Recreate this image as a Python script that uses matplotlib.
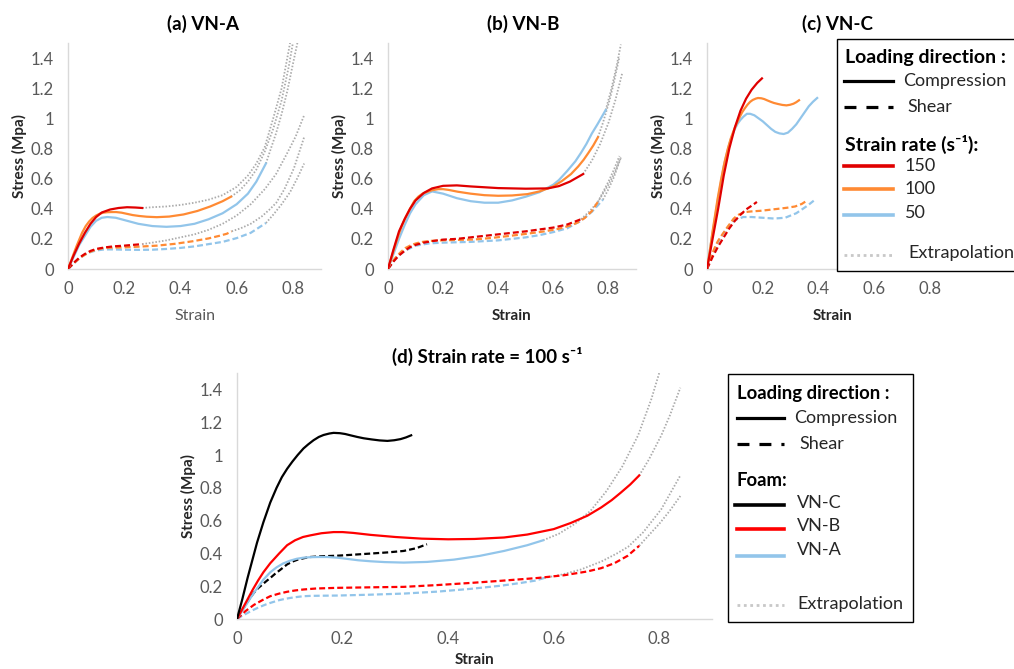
import matplotlib
matplotlib.use("Agg")
import matplotlib.pyplot as plt
from matplotlib.patches import Rectangle

plt.rcParams['font.family'] = ['Lato', 'DejaVu Sans']
plt.rcParams['lines.scale_dashes'] = False

# ---------------- data (strain, stress in MPa) ----------------
# VN-A
a_c150_x = [0, 0.02, 0.04, 0.06, 0.08, 0.10, 0.12, 0.15, 0.18, 0.21, 0.24, 0.264]
a_c150_y = [0, 0.09, 0.17, 0.24, 0.30, 0.345, 0.375, 0.395, 0.405, 0.41, 0.408, 0.405]
vna100_c_x = [0, 0.01, 0.02, 0.03, 0.04, 0.05, 0.063, 0.075, 0.087, 0.1, 0.113, 0.126, 0.14, 0.155, 0.171,
              0.19, 0.21, 0.23, 0.253, 0.28, 0.316, 0.36, 0.411, 0.46, 0.506, 0.55, 0.58]
vna100_c_y = [0, 0.05, 0.1, 0.15, 0.195, 0.24, 0.285, 0.315, 0.338, 0.355, 0.367, 0.374, 0.377, 0.378, 0.378,
              0.374, 0.366, 0.358, 0.352, 0.347, 0.344, 0.348, 0.362, 0.385, 0.415, 0.45, 0.48]
a_c50_x = [0, 0.02, 0.04, 0.06, 0.08, 0.10, 0.12, 0.14, 0.17, 0.20, 0.25, 0.30, 0.35, 0.40, 0.45, 0.50, 0.55, 0.60, 0.64, 0.67, 0.704]
a_c50_y = [0, 0.08, 0.16, 0.22, 0.28, 0.32, 0.34, 0.345, 0.34, 0.325, 0.30, 0.285, 0.28, 0.285, 0.30, 0.33, 0.37, 0.43, 0.50, 0.58, 0.70]
a_s150_x = [0, 0.02, 0.04, 0.06, 0.08, 0.10, 0.13, 0.16, 0.20, 0.23, 0.264]
a_s150_y = [0, 0.04, 0.075, 0.10, 0.12, 0.133, 0.143, 0.15, 0.155, 0.16, 0.165]
vna100_s_x = [0, 0.008, 0.016, 0.024, 0.032, 0.04, 0.048, 0.055, 0.063, 0.072, 0.08, 0.09, 0.1, 0.113, 0.126,
              0.14, 0.16, 0.19, 0.25, 0.316, 0.38, 0.443, 0.5, 0.538, 0.565, 0.582]
vna100_s_y = [0, 0.016, 0.03, 0.044, 0.057, 0.069, 0.08, 0.089, 0.098, 0.107, 0.115, 0.122, 0.128, 0.134, 0.139,
              0.141, 0.142, 0.143, 0.148, 0.155, 0.167, 0.184, 0.203, 0.22, 0.234, 0.25]
a_s50_x = [0, 0.02, 0.04, 0.06, 0.08, 0.10, 0.13, 0.16, 0.20, 0.25, 0.30, 0.35, 0.40, 0.45, 0.50, 0.55, 0.60, 0.65, 0.704]
a_s50_y = [0, 0.035, 0.07, 0.095, 0.112, 0.123, 0.13, 0.13, 0.128, 0.127, 0.128, 0.133, 0.14, 0.15, 0.165, 0.18, 0.205, 0.24, 0.305]
# VN-A extrapolations
a_ec150_x = [0.264, 0.30, 0.35, 0.40, 0.45, 0.50, 0.55, 0.60, 0.64, 0.67, 0.70, 0.73, 0.76, 0.79]
a_ec150_y = [0.405, 0.41, 0.415, 0.425, 0.44, 0.46, 0.49, 0.545, 0.62, 0.70, 0.81, 1.0, 1.2, 1.5]
vna100_ec_x = [0.58, 0.61, 0.64, 0.67, 0.70, 0.73, 0.76, 0.785, 0.80]
vna100_ec_y = [0.48, 0.52, 0.58, 0.66, 0.78, 0.93, 1.12, 1.34, 1.5]
a_ec50_x = [0.704, 0.72, 0.74, 0.76, 0.78, 0.80, 0.816]
a_ec50_y = [0.70, 0.79, 0.90, 1.03, 1.18, 1.36, 1.5]
a_es150_x = [0.264, 0.30, 0.35, 0.40, 0.45, 0.50, 0.55, 0.60, 0.65, 0.70, 0.74, 0.78, 0.81, 0.84]
a_es150_y = [0.165, 0.175, 0.19, 0.21, 0.23, 0.26, 0.30, 0.355, 0.43, 0.53, 0.63, 0.77, 0.88, 1.02]
vna100_es_x = [0.582, 0.614, 0.65, 0.69, 0.72, 0.741, 0.77, 0.804, 0.84]
vna100_es_y = [0.25, 0.27, 0.30, 0.35, 0.40, 0.44, 0.53, 0.67, 0.875]
a_es50_x = [0.704, 0.73, 0.76, 0.79, 0.815, 0.84]
a_es50_y = [0.305, 0.36, 0.43, 0.51, 0.60, 0.70]

# VN-B
b_c150_x = [0, 0.02, 0.04, 0.06, 0.08, 0.10, 0.13, 0.16, 0.20, 0.25, 0.30, 0.40, 0.50, 0.58, 0.62, 0.66, 0.708]
b_c150_y = [0, 0.13, 0.25, 0.33, 0.40, 0.455, 0.505, 0.535, 0.552, 0.555, 0.548, 0.537, 0.533, 0.535, 0.55, 0.58, 0.63]
vnb100_c_x = [0, 0.01, 0.02, 0.03, 0.04, 0.05, 0.063, 0.08, 0.095, 0.11, 0.125, 0.139, 0.16, 0.183, 0.2, 0.22,
              0.253, 0.3, 0.35, 0.4, 0.45, 0.506, 0.55, 0.6, 0.632, 0.664, 0.69, 0.71, 0.727, 0.745, 0.762]
vnb100_c_y = [0, 0.06, 0.12, 0.18, 0.235, 0.285, 0.34, 0.40, 0.45, 0.48, 0.50, 0.51, 0.523, 0.53, 0.53, 0.525,
              0.513, 0.50, 0.49, 0.486, 0.488, 0.497, 0.515, 0.548, 0.585, 0.63, 0.68, 0.725, 0.77, 0.82, 0.875]
b_c50_x = [0, 0.02, 0.04, 0.06, 0.08, 0.10, 0.13, 0.16, 0.20, 0.25, 0.30, 0.35, 0.40, 0.45, 0.50, 0.55, 0.60,
           0.62, 0.65, 0.68, 0.70, 0.72, 0.74, 0.76, 0.79]
b_c50_y = [0, 0.1, 0.2, 0.29, 0.37, 0.43, 0.49, 0.515, 0.50, 0.47, 0.45, 0.44, 0.44, 0.455, 0.48, 0.51, 0.56,
           0.59, 0.65, 0.715, 0.77, 0.83, 0.9, 0.96, 1.055]
b_s150_x = [0, 0.02, 0.04, 0.06, 0.08, 0.10, 0.13, 0.16, 0.20, 0.25, 0.30, 0.40, 0.50, 0.60, 0.65, 0.70]
b_s150_y = [0, 0.05, 0.09, 0.12, 0.145, 0.16, 0.175, 0.185, 0.195, 0.20, 0.21, 0.23, 0.25, 0.275, 0.295, 0.33]
vnb100_s_x = [0, 0.016, 0.032, 0.048, 0.063, 0.08, 0.095, 0.11, 0.126, 0.15, 0.19, 0.25, 0.316, 0.38, 0.443,
              0.5, 0.569, 0.62, 0.664, 0.69, 0.715, 0.74, 0.762]
vnb100_s_y = [0, 0.048, 0.086, 0.115, 0.139, 0.155, 0.166, 0.174, 0.18, 0.186, 0.19, 0.193, 0.196, 0.207, 0.22,
              0.233, 0.25, 0.267, 0.29, 0.31, 0.34, 0.385, 0.446]
b_s50_x = [0, 0.03, 0.06, 0.1, 0.15, 0.2, 0.3, 0.4, 0.5, 0.55, 0.6, 0.65, 0.7, 0.74, 0.78]
b_s50_y = [0, 0.075, 0.12, 0.155, 0.17, 0.175, 0.18, 0.19, 0.21, 0.225, 0.245, 0.27, 0.32, 0.38, 0.46]
# VN-B extrapolations
b_ec150_x = [0.708, 0.74, 0.77, 0.80, 0.825, 0.85]
b_ec150_y = [0.63, 0.72, 0.83, 0.97, 1.12, 1.30]
vnb100_ec_x = [0.762, 0.78, 0.804, 0.82, 0.84]
vnb100_ec_y = [0.875, 0.97, 1.12, 1.24, 1.41]
b_ec50_x = [0.79, 0.81, 0.83, 0.845]
b_ec50_y = [1.055, 1.19, 1.35, 1.49]
b_es150_x = [0.70, 0.73, 0.762, 0.78, 0.80, 0.82, 0.845]
b_es150_y = [0.33, 0.38, 0.446, 0.50, 0.56, 0.63, 0.74]
vnb100_es_x = [0.762, 0.78, 0.80, 0.82, 0.84]
vnb100_es_y = [0.446, 0.51, 0.58, 0.66, 0.75]
b_es50_x = [0.78, 0.80, 0.82, 0.845]
b_es50_y = [0.46, 0.53, 0.61, 0.74]

# VN-C
c_c150_x = [0, 0.02, 0.04, 0.06, 0.08, 0.10, 0.12, 0.14, 0.16, 0.18, 0.197]
c_c150_y = [0, 0.2, 0.4, 0.62, 0.8, 0.94, 1.05, 1.13, 1.19, 1.235, 1.265]
vnc100_c_x = [0, 0.01, 0.02, 0.03, 0.038, 0.05, 0.063, 0.075, 0.085, 0.095, 0.105, 0.115, 0.126, 0.135, 0.145,
              0.155, 0.164, 0.175, 0.183, 0.195, 0.205, 0.215, 0.228, 0.24, 0.255, 0.27, 0.285, 0.298, 0.31,
              0.32, 0.33]
vnc100_c_y = [0, 0.12, 0.25, 0.37, 0.466, 0.59, 0.71, 0.80, 0.865, 0.916, 0.96, 1.0, 1.04, 1.065, 1.09,
              1.11, 1.122, 1.131, 1.135, 1.133, 1.128, 1.12, 1.11, 1.102, 1.095, 1.089, 1.086, 1.09, 1.097,
              1.107, 1.12]
c_c50_x = [0, 0.02, 0.04, 0.06, 0.07, 0.08, 0.09, 0.10, 0.11, 0.12, 0.13, 0.143, 0.155, 0.17, 0.185, 0.20,
           0.215, 0.23, 0.245, 0.26, 0.275, 0.29, 0.305, 0.32, 0.335, 0.35, 0.365, 0.38, 0.395]
c_c50_y = [0, 0.24, 0.47, 0.68, 0.76, 0.83, 0.885, 0.93, 0.965, 0.99, 1.01, 1.03, 1.03, 1.02, 1.0, 0.98,
           0.955, 0.93, 0.91, 0.90, 0.896, 0.905, 0.93, 0.96, 1.0, 1.04, 1.08, 1.11, 1.135]
c_s150_x = [0, 0.02, 0.04, 0.06, 0.08, 0.10, 0.12, 0.14, 0.16, 0.179]
c_s150_y = [0, 0.08, 0.15, 0.21, 0.27, 0.32, 0.36, 0.395, 0.42, 0.445]
vnc100_s_x = [0, 0.008, 0.016, 0.024, 0.032, 0.04, 0.048, 0.056, 0.063, 0.072, 0.08, 0.088, 0.095, 0.105,
              0.115, 0.127, 0.139, 0.152, 0.165, 0.19, 0.22, 0.253, 0.285, 0.316, 0.34, 0.36]
vnc100_s_y = [0, 0.045, 0.085, 0.125, 0.16, 0.188, 0.21, 0.232, 0.25, 0.275, 0.295, 0.315, 0.333, 0.35,
              0.362, 0.371, 0.378, 0.381, 0.383, 0.386, 0.392, 0.399, 0.406, 0.415, 0.432, 0.456]
c_s50_x = [0, 0.02, 0.04, 0.06, 0.08, 0.10, 0.13, 0.16, 0.20, 0.24, 0.28, 0.32, 0.36, 0.39]
c_s50_y = [0, 0.1, 0.18, 0.24, 0.29, 0.325, 0.345, 0.345, 0.34, 0.335, 0.34, 0.37, 0.42, 0.464]

yticks = [0, 0.2, 0.4, 0.6, 0.8, 1.0, 1.2, 1.4]
ytick_labels = ['0', '0.2', '0.4', '0.6', '0.8', '1', '1.2', '1.4']
xticks = [0, 0.2, 0.4, 0.6, 0.8]
xtick_labels = ['0', '0.2', '0.4', '0.6', '0.8']

RED = '#E00000'
RED_D = '#FF0000'
ORANGE = '#FF8A33'
BLUE = '#92C5EA'
GREY = '#ABABAB'
SHEAR = (0, (4.3, 2.2))
DOT = (0, (1.1, 1.3))

W, H = 1014, 669
fig = plt.figure(figsize=(W / 100, H / 100), dpi=100)


def box(l, t, r, b):
    return [l / W, 1 - b / H, (r - l) / W, (b - t) / H]


def setup(ax, wpx, hpx, bold_x=True):
    ax.set_xlim(0, 0.9)
    ax.set_ylim(0, 1.5)
    ax.set_yticks(yticks)
    ax.set_yticklabels(ytick_labels)
    ax.set_xticks(xticks)
    ax.set_xticklabels(xtick_labels)
    ax.tick_params(length=0, labelsize=12, labelcolor='#595959')
    ax.tick_params(axis='y', pad=10)
    ax.tick_params(axis='x', pad=9)
    for sp in ['top', 'right']:
        ax.spines[sp].set_visible(False)
    for sp in ['left', 'bottom']:
        ax.spines[sp].set_color('#D9D9D9')
        ax.spines[sp].set_linewidth(1.0)
    ax.set_ylabel('Stress (Mpa)', fontsize=11, fontweight='bold', color='#262626')
    ax.yaxis.set_label_coords(-49 / wpx, 0.5)
    ax.yaxis.label.set_va('center')
    if bold_x:
        ax.set_xlabel('Strain', fontsize=11, fontweight='bold', color='#262626')
    else:
        ax.set_xlabel('Strain', fontsize=11.5, color='#595959')
    ax.xaxis.set_label_coords(0.5, -47 / hpx)
    ax.xaxis.label.set_va('center')


def ext(ax, x, y):
    ax.plot(x, y, color=GREY, lw=1.3, linestyle=DOT, zorder=1)


def comp(ax, x, y, c):
    ax.plot(x, y, color=c, lw=1.6, zorder=3)


def shear(ax, x, y, c):
    ax.plot(x, y, color=c, lw=1.6, linestyle=SHEAR, zorder=3)


# (a) VN-A
ax1 = fig.add_axes(box(68, 43, 321, 269))
setup(ax1, 253, 226, bold_x=False)
for x, y in [(a_ec150_x, a_ec150_y), (vna100_ec_x, vna100_ec_y), (a_ec50_x, a_ec50_y),
             (a_es150_x, a_es150_y), (vna100_es_x, vna100_es_y), (a_es50_x, a_es50_y)]:
    ext(ax1, x, y)
shear(ax1, a_s50_x, a_s50_y, BLUE)
shear(ax1, vna100_s_x, vna100_s_y, ORANGE)
shear(ax1, a_s150_x, a_s150_y, RED)
comp(ax1, a_c50_x, a_c50_y, BLUE)
comp(ax1, vna100_c_x, vna100_c_y, ORANGE)
comp(ax1, a_c150_x, a_c150_y, RED)

# (b) VN-B
ax2 = fig.add_axes(box(388, 43, 636, 269))
setup(ax2, 248, 226)
for x, y in [(b_ec150_x, b_ec150_y), (vnb100_ec_x, vnb100_ec_y), (b_ec50_x, b_ec50_y),
             (b_es150_x, b_es150_y), (vnb100_es_x, vnb100_es_y), (b_es50_x, b_es50_y)]:
    ext(ax2, x, y)
shear(ax2, b_s50_x, b_s50_y, BLUE)
shear(ax2, vnb100_s_x, vnb100_s_y, ORANGE)
shear(ax2, b_s150_x, b_s150_y, RED)
comp(ax2, b_c50_x, b_c50_y, BLUE)
comp(ax2, vnb100_c_x, vnb100_c_y, ORANGE)
comp(ax2, b_c150_x, b_c150_y, RED)

# (c) VN-C
ax3 = fig.add_axes(box(707, 43, 958, 269))
setup(ax3, 251, 226)
shear(ax3, c_s50_x, c_s50_y, BLUE)
shear(ax3, vnc100_s_x, vnc100_s_y, ORANGE)
shear(ax3, c_s150_x, c_s150_y, RED)
comp(ax3, c_c50_x, c_c50_y, BLUE)
comp(ax3, vnc100_c_x, vnc100_c_y, ORANGE)
comp(ax3, c_c150_x, c_c150_y, RED)

# (d) strain rate 100
ax4 = fig.add_axes(box(237, 373, 712, 619))
setup(ax4, 475, 246)
ax4.xaxis.set_label_coords(0.5, -41 / 246)
for x, y in [(vna100_ec_x, vna100_ec_y), (vnb100_ec_x, vnb100_ec_y),
             (vna100_es_x, vna100_es_y), (vnb100_es_x, vnb100_es_y)]:
    ext(ax4, x, y)
shear(ax4, vna100_s_x, vna100_s_y, BLUE)
shear(ax4, vnb100_s_x, vnb100_s_y, RED_D)
shear(ax4, vnc100_s_x, vnc100_s_y, 'black')
comp(ax4, vna100_c_x, vna100_c_y, BLUE)
comp(ax4, vnb100_c_x, vnb100_c_y, RED_D)
comp(ax4, vnc100_c_x, vnc100_c_y, 'black')

# overlay in pixel coordinates for titles and legend boxes
ov = fig.add_axes([0, 0, 1, 1], zorder=10)
ov.set_xlim(0, W)
ov.set_ylim(H, 0)
ov.axis('off')

tkw = dict(fontsize=13.5, fontweight='bold', ha='center', va='center', color='black')
ov.text(203, 24, '(a) VN-A', **tkw)
ov.text(523, 24, '(b) VN-B', **tkw)
ov.text(837, 24, '(c) VN-C', **tkw)
ov.text(487, 356, '(d) Strain rate = 100 s\u207b\u00b9', **tkw)

item = dict(fontsize=13, va='center', ha='left', color='#262626')
LEG_SHEAR = (0, (8.6, 7.2))
LEG_DOT = (0, (2.0, 2.6))

# legend for (a)-(c)
head = dict(fontsize=14, fontweight='bold', va='center', ha='left', color='black')
ov.add_patch(Rectangle((837, 39), 190, 232, facecolor='white', edgecolor='black', lw=1.0))
ov.text(845, 57, 'Loading direction :', **head)
ov.plot([844, 893], [81, 81], color='black', lw=2.3)
ov.text(903, 81, 'Compression', **item)
ov.plot([844, 893], [107, 107], color='black', lw=2.3, linestyle=LEG_SHEAR)
ov.text(907, 107, 'Shear', **item)
ov.text(845, 144, 'Strain rate (s\u207b\u00b9):', **head)
ov.plot([844, 893], [166, 166], color=RED, lw=2.6)
ov.text(905, 166, '150', **item)
ov.plot([844, 893], [189, 189], color=ORANGE, lw=2.6)
ov.text(905, 189, '100', **item)
ov.plot([844, 893], [215, 215], color=BLUE, lw=2.6)
ov.text(905, 213, '50', **item)
ov.plot([844, 893], [255, 255], color='#C8C8C8', lw=2.0, linestyle=LEG_DOT)
ov.text(908, 253, 'Extrapolation', **item)

# legend for (d)
head = dict(fontsize=13.3, fontweight='bold', va='center', ha='left', color='black')
ov.add_patch(Rectangle((728, 374), 185, 248, facecolor='white', edgecolor='black', lw=1.0))
ov.text(737, 393, 'Loading direction :', **head)
ov.plot([737, 784], [418, 418], color='black', lw=2.3)
ov.text(794, 418, 'Compression', **item)
ov.plot([737, 784], [444, 444], color='black', lw=2.3, linestyle=LEG_SHEAR)
ov.text(799, 444, 'Shear', **item)
ov.text(737, 480, 'Foam:', **head)
ov.plot([735, 784], [505, 505], color='black', lw=2.6)
ov.text(797, 503, 'VN-C', **item)
ov.plot([737, 784], [529, 529], color=RED_D, lw=2.6)
ov.text(797, 526, 'VN-B', **item)
ov.plot([737, 784], [556, 556], color=BLUE, lw=2.6)
ov.text(797, 550, 'VN-A', **item)
ov.plot([737, 784], [605, 605], color='#C8C8C8', lw=2.0, linestyle=LEG_DOT)
ov.text(797, 604, 'Extrapolation', **item)

fig.savefig('out.png', dpi=100)
